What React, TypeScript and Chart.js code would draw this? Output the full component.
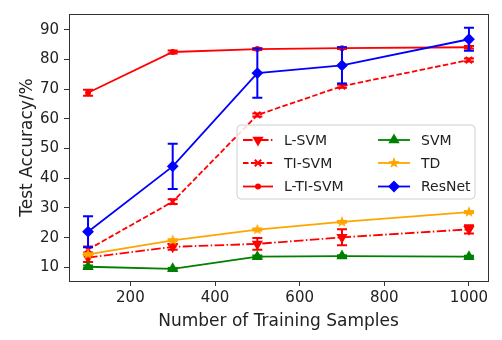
import React, { useEffect, useRef } from 'react';
import { Chart, registerables } from 'chart.js';
import { drawPoint } from 'chart.js/helpers';

Chart.register(...registerables);

const samples = [100, 300, 500, 700, 1000];
const xTicks = [200, 400, 600, 800, 1000];
const yTicks = [10, 20, 30, 40, 50, 60, 70, 80, 90];

const lSvm = [13.3, 16.9, 17.9, 20.1, 22.8];
const lSvmErr = [1.5, 1.0, 2.0, 2.7, 1.4];
const tiSvm = [16.0, 32.1, 61.3, 71.0, 79.8];
const tiSvmErr = [1.0, 0.8, 0.5, 0.5, 0.5];
const lTiSvm = [68.8, 82.5, 83.5, 83.8, 84.1];
const lTiSvmErr = [1.0, 0.5, 0.3, 0.3, 0.4];
const svm = [10.2, 9.5, 13.6, 13.8, 13.6];
const svmErr = [0.4, 0.3, 0.4, 0.3, 0.3];
const td = [14.4, 19.1, 22.7, 25.3, 28.6];
const tdErr = [0.3, 0.3, 0.3, 0.3, 0.3];
const resnet = [22.0, 44.0, 75.4, 78.0, 86.8];
const resnetErr = [5.2, 7.6, 8.3, 6.1, 3.9];

const FONT = "'DejaVu Sans', sans-serif";

function makeStar(color: string, r: number) {
  const c = document.createElement('canvas');
  const s = Math.ceil(r * 2 + 2);
  c.width = s;
  c.height = s;
  const ctx = c.getContext('2d')!;
  const cx = s / 2, cy = s / 2;
  const inner = r * 0.42;
  ctx.beginPath();
  for (let i = 0; i < 10; i++) {
    const rad = i % 2 === 0 ? r : inner;
    const a = -Math.PI / 2 + (i * Math.PI) / 5;
    const px = cx + rad * Math.cos(a);
    const py = cy + rad * Math.sin(a);
    if (i === 0) ctx.moveTo(px, py);
    else ctx.lineTo(px, py);
  }
  ctx.closePath();
  ctx.fillStyle = color;
  ctx.fill();
  return c;
}

const toPts = (ys: number[]) => samples.map((x, i) => ({ x, y: ys[i] }));

export default function App() {
  const ref = useRef<HTMLCanvasElement>(null);
  useEffect(() => {
    const star = makeStar('#ffa500', 6);
    const red = '#ff0000';
    const specs = [
      { label: 'L-SVM', data: lSvm, err: lSvmErr, color: red, dash: [9.6, 2.4, 1.5, 2.4], style: 'triangle', rot: 180, r: 4.5 },
      { label: 'TI-SVM', data: tiSvm, err: tiSvmErr, color: red, dash: [5.5, 2.4], style: 'crossRot', rot: 0, r: 4.5 },
      { label: 'L-TI-SVM', data: lTiSvm, err: lTiSvmErr, color: red, dash: [], style: 'circle', rot: 0, r: 2 },
      { label: 'SVM', data: svm, err: svmErr, color: '#008000', dash: [], style: 'triangle', rot: 0, r: 4.5 },
      { label: 'TD', data: td, err: tdErr, color: '#ffa500', dash: [], style: star as any, rot: 0, r: 5 },
      { label: 'ResNet', data: resnet, err: resnetErr, color: '#0000ff', dash: [], style: 'rectRot', rot: 0, r: 4.5 },
    ];

    const errorBars = {
      id: 'errorBars',
      afterDatasetDraw(chart: any, args: any) {
        const i = args.index;
        const spec = specs[i];
        const xs = chart.scales.x;
        const ys = chart.scales.y;
        const ctx = chart.ctx;
        ctx.save();
        ctx.strokeStyle = spec.color;
        ctx.lineWidth = 2;
        ctx.setLineDash([]);
        samples.forEach((sx, k) => {
          const px = xs.getPixelForValue(sx);
          const top = ys.getPixelForValue(spec.data[k] + spec.err[k]);
          const bot = ys.getPixelForValue(spec.data[k] - spec.err[k]);
          ctx.beginPath();
          ctx.moveTo(px, top);
          ctx.lineTo(px, bot);
          ctx.moveTo(px - 5, top);
          ctx.lineTo(px + 5, top);
          ctx.moveTo(px - 5, bot);
          ctx.lineTo(px + 5, bot);
          ctx.stroke();
        });
        ctx.restore();
      },
    };

    const frameAndLegend = {
      id: 'frameAndLegend',
      afterDraw(chart: any) {
        const ctx = chart.ctx;
        const a = chart.chartArea;
        ctx.save();
        ctx.strokeStyle = '#333';
        ctx.lineWidth = 1;
        ctx.strokeRect(Math.round(a.left) + 0.5, Math.round(a.top) + 0.5, Math.round(a.right - a.left), Math.round(a.bottom - a.top));

        // legend
        const bx = 237, by = 125, bw = 238, bh = 74, rr = 4;
        ctx.beginPath();
        ctx.moveTo(bx + rr, by);
        ctx.arcTo(bx + bw, by, bx + bw, by + bh, rr);
        ctx.arcTo(bx + bw, by + bh, bx, by + bh, rr);
        ctx.arcTo(bx, by + bh, bx, by, rr);
        ctx.arcTo(bx, by, bx + bw, by, rr);
        ctx.closePath();
        ctx.fillStyle = 'rgba(255,255,255,0.85)';
        ctx.fill();
        ctx.strokeStyle = '#d0d0d0';
        ctx.stroke();

        const rows = [140, 163, 186.5];
        const cols = [
          { x0: 243, x1: 273, tx: 284 },
          { x0: 378, x1: 410, tx: 421 },
        ];
        specs.forEach((s, i) => {
          const col = cols[Math.floor(i / 3)];
          const y = rows[i % 3];
          ctx.strokeStyle = s.color;
          ctx.lineWidth = 1.8;
          ctx.setLineDash(s.dash);
          ctx.beginPath();
          ctx.moveTo(col.x0, y);
          ctx.lineTo(col.x1, y);
          ctx.stroke();
          ctx.setLineDash([]);
          ctx.fillStyle = s.color;
          ctx.strokeStyle = s.color;
          ctx.lineWidth = 2;
          drawPoint(ctx, { pointStyle: s.style, radius: s.r, rotation: s.rot, borderWidth: 2 } as any, (col.x0 + col.x1) / 2, y);
          ctx.fillStyle = '#222';
          ctx.font = `14px ${FONT}`;
          ctx.textBaseline = 'middle';
          ctx.textAlign = 'left';
          ctx.fillText(s.label, col.tx, y + 1);
        });
        ctx.restore();
      },
    };

    const chart = new Chart(ref.current!, {
      type: 'line',
      data: {
        datasets: specs.map((s, i) => ({
          label: s.label,
          data: toPts(s.data),
          borderColor: s.color,
          backgroundColor: s.color,
          borderWidth: 1.8,
          borderDash: s.dash,
          pointStyle: s.style,
          pointRotation: s.rot,
          pointRadius: s.r,
          pointBorderWidth: 2,
          pointBackgroundColor: s.color,
          pointBorderColor: s.color,
          tension: 0,
          fill: false,
          order: specs.length - 1 - i,
        })),
      },
      options: {
        responsive: false,
        animation: false,
        devicePixelRatio: 1,
        layout: { padding: { top: 8, right: 14, left: 0, bottom: 0 } },
        plugins: { legend: { display: false }, tooltip: { enabled: false } },
        scales: {
          x: {
            type: 'linear',
            min: 55,
            max: 1045,
            afterBuildTicks: (sc: any) => { sc.ticks = xTicks.map((v) => ({ value: v })); },
            afterFit: (sc: any) => { sc.height = 59; },
            grid: { drawOnChartArea: false, drawTicks: true, tickLength: 5, color: '#333' },
            border: { display: true, color: '#333' },
            ticks: { color: '#222', font: { family: FONT, size: 15 }, padding: 3, maxRotation: 0, autoSkip: false, callback: (v: any) => String(v) },
            title: { display: true, text: 'Number of Training Samples', color: '#222', font: { family: FONT, size: 17 }, padding: { top: 0, bottom: 8 } },
          },
          y: {
            type: 'linear',
            min: 5.4,
            max: 95.3,
            afterBuildTicks: (sc: any) => { sc.ticks = yTicks.map((v) => ({ value: v })); },
            afterFit: (sc: any) => { sc.width = 69; },
            grid: { drawOnChartArea: false, drawTicks: true, tickLength: 5, color: '#333' },
            border: { display: true, color: '#333' },
            ticks: { color: '#222', font: { family: FONT, size: 15 }, padding: 5, autoSkip: false, callback: (v: any) => String(v) },
            title: { display: true, text: 'Test Accuracy/%', color: '#222', font: { family: FONT, size: 17 }, padding: { top: 17, bottom: 0 } },
          },
        },
      },
      plugins: [errorBars, frameAndLegend],
    } as any);
    return () => chart.destroy();
  }, []);
  return (
    <div style={{ position: 'fixed', left: 0, top: 0, width: 502, height: 340, background: '#fff' }}>
      <canvas ref={ref} width={502} height={340} />
    </div>
  );
}
